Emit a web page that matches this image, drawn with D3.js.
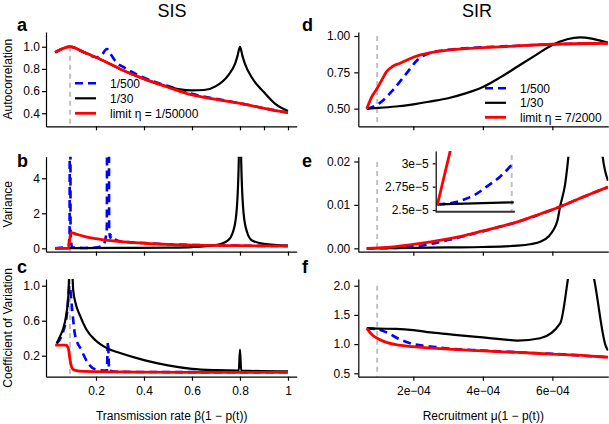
<!DOCTYPE html>
<html>
<head>
<meta charset="utf-8">
<script src="https://cdn.jsdelivr.net/npm/d3@7"></script>
<style>
    body { margin: 0; background: #fff; }
    text { font-family: "Liberation Sans", Arial, sans-serif; }
</style>
</head>
<body>
<svg id="displaySvg" width="609" height="424"></svg>
<script>

// ---- data ----
const sisCritical = 0.092
const sirCritical = 0.96e-4

const sisTicks = [0.2, 0.4, 0.6, 0.8, 1]
const sisTicksTop = [0.2, 0.4, 0.6, 0.8, 0.9, 1]
const sirTicks = [2e-4, 4e-4, 6e-4]

const acfTicksSis = [0.4, 0.6, 0.8, 1.0]
const varTicksSis = [0, 2, 4]
const cvTicksSis = [0.2, 0.6, 1.0]
const acfTicksSir = [0.5, 0.75, 1.0]
const varTicksSir = [0, 0.01, 0.02]
const cvTicksSir = [0.5, 1.0, 1.5, 2.0]
const insetTicks = [2.5e-5, 2.75e-5, 3e-5]

const legendSis = ['1/500', '1/30', 'limit η = 1/50000']
const legendSir = ['1/500', '1/30', 'limit η = 7/2000']

// SIS autocorrelation
const acfSisSlow = [[0.03,0.95],[0.092,1.0],[0.15,0.95],[0.2,0.905],[0.225,0.93],[0.245,0.98],[0.265,0.92],[0.285,0.86],[0.32,0.81],[0.4,0.72],[0.5,0.645],[0.6,0.575],[0.7,0.53],[0.8,0.49],[0.9,0.445],[1.0,0.405]]
const acfSisFast = [[0.03,0.95],[0.092,1.0],[0.15,0.95],[0.2,0.905],[0.3,0.80],[0.4,0.71],[0.5,0.64],[0.55,0.615],[0.6,0.607],[0.65,0.61],[0.7,0.645],[0.75,0.74],[0.78,0.85],[0.79,0.92],[0.8,1.0],[0.81,0.92],[0.82,0.85],[0.85,0.72],[0.9,0.59],[0.95,0.48],[1.0,0.42]]
const acfSisLimit = [[0.03,0.95],[0.092,1.0],[0.15,0.95],[0.2,0.905],[0.3,0.80],[0.4,0.71],[0.5,0.635],[0.6,0.565],[0.7,0.525],[0.8,0.49],[0.9,0.445],[1.0,0.405]]

// SIS variance
const varSisSlow = [[0.03,0],[0.085,0.1],[0.09,1],[0.092,60],[0.094,1],[0.1,0.05],[0.15,0.02],[0.2,0.04],[0.23,0.2],[0.245,1],[0.25,60],[0.255,1],[0.26,0.6],[0.265,0.75],[0.275,0.55],[0.3,0.4],[0.4,0.3],[0.5,0.23],[0.6,0.19],[0.8,0.15],[1,0.13]]
const varSisFast = [[0.03,0],[0.1,0.01],[0.3,0.02],[0.5,0.04],[0.6,0.07],[0.7,0.18],[0.75,0.45],[0.77,0.9],[0.785,2],[0.795,5],[0.8,40],[0.805,5],[0.815,2],[0.83,0.9],[0.85,0.45],[0.9,0.25],[1,0.15]]
const varSisLimit = [[0.03,0],[0.085,0],[0.095,0.9],[0.12,0.8],[0.15,0.68],[0.2,0.55],[0.25,0.45],[0.3,0.38],[0.4,0.29],[0.5,0.22],[0.6,0.18],[0.8,0.15],[1,0.13]]

// SIS coefficient of variation
const cvSisSlow = [[0.036,0.34],[0.06,0.45],[0.08,0.7],[0.09,1.0],[0.1,0.75],[0.1125,0.44],[0.14,0.26],[0.168,0.11],[0.2,0.04],[0.245,0.03],[0.25,0.36],[0.255,0.03],[0.3,0.015],[1,0.01]]
const cvSisFast = [[0.036,0.34],[0.05,0.42],[0.062,0.5],[0.075,0.65],[0.085,0.9],[0.09,1.2],[0.1,1.2],[0.105,0.95],[0.115,0.8],[0.133,0.66],[0.16,0.5],[0.2,0.37],[0.25,0.28],[0.3,0.23],[0.4,0.15],[0.5,0.09],[0.6,0.05],[0.7,0.035],[0.795,0.03],[0.8,0.27],[0.805,0.03],[1,0.02]]
const cvSisLimit = [[0.03,0.32],[0.075,0.32],[0.085,0.28],[0.092,0.15],[0.1,0.06],[0.11,0.035],[0.15,0.02],[0.3,0.015],[0.6,0.01],[1,0.01]]

// SIR autocorrelation
const acfSirSlow = [[0.66e-4,0.5],[1.04e-4,0.54],[1.42e-4,0.63],[1.81e-4,0.745],[2.14e-4,0.84],[2.5e-4,0.885],[3e-4,0.905],[4e-4,0.922],[5e-4,0.933],[6e-4,0.943],[7.6e-4,0.95]]
const acfSirFast = [[0.66e-4,0.5],[1e-4,0.505],[1.5e-4,0.515],[2e-4,0.53],[2.5e-4,0.55],[3e-4,0.572],[3.5e-4,0.605],[4e-4,0.649],[4.5e-4,0.715],[5e-4,0.79],[5.5e-4,0.865],[6e-4,0.938],[6.8e-4,0.99],[7.6e-4,0.954]]
const acfSirLimit = [[0.66e-4,0.5],[0.8e-4,0.58],[0.96e-4,0.64],[1.1e-4,0.7],[1.23e-4,0.755],[1.4e-4,0.79],[1.62e-4,0.813],[2e-4,0.854],[2.5e-4,0.885],[3e-4,0.903],[4e-4,0.92],[5e-4,0.932],[6e-4,0.943],[7.6e-4,0.95]]

// SIR variance
const varSirSlow = [[0.66e-4,0],[1.5e-4,0.0001],[2e-4,0.0004],[2.5e-4,0.001],[3e-4,0.0019],[3.5e-4,0.0029],[4e-4,0.0039],[4.5e-4,0.005],[5e-4,0.0061],[6e-4,0.0089],[7e-4,0.0122],[7.6e-4,0.0141]]
const varSirFast = [[0.66e-4,0],[2e-4,0.0001],[3e-4,0.0002],[4e-4,0.0003],[5e-4,0.0006],[5.4e-4,0.001],[5.65e-4,0.0015],[5.9e-4,0.0028],[6.03e-4,0.0042],[6.15e-4,0.0065],[6.22e-4,0.0095],[6.37e-4,0.0149],[6.46e-4,0.021],[6.6e-4,0.035],[7e-4,0.06],[7.3e-4,0.035],[7.45e-4,0.021],[7.6e-4,0.0156]]
const varSirLimit = [[0.66e-4,0],[1e-4,0.0001],[1.5e-4,0.0004],[2e-4,0.0009],[2.5e-4,0.0015],[3e-4,0.0022],[3.5e-4,0.003],[4e-4,0.004],[4.5e-4,0.005],[5e-4,0.0061],[5.5e-4,0.0075],[6e-4,0.0089],[6.5e-4,0.0105],[7e-4,0.0122],[7.6e-4,0.0141]]

// SIR variance, inset near the threshold
const insetSlow = [[0.66e-4,2.561e-5],[0.70e-4,2.568e-5],[0.731e-4,2.582e-5],[0.77e-4,2.615e-5],[0.805e-4,2.653e-5],[0.859e-4,2.75e-5],[0.913e-4,2.857e-5],[0.966e-4,3.0e-5]]
const insetFast = [[0.66e-4,2.561e-5],[0.968e-4,2.582e-5]]
const insetLimit = [[0.66e-4,2.5535e-5],[0.72e-4,3.22e-5]]

// SIR coefficient of variation
const cvSirSlow = [[0.66e-4,1.27],[1.0e-4,1.25],[1.23e-4,1.2],[1.62e-4,1.08],[2e-4,1.0],[2.5e-4,0.96],[3e-4,0.925],[4e-4,0.89],[5e-4,0.86],[6e-4,0.833],[7.6e-4,0.775]]
const cvSirFast = [[0.66e-4,1.27],[1e-4,1.265],[1.5e-4,1.26],[2e-4,1.24],[2.5e-4,1.2],[3e-4,1.17],[3.5e-4,1.14],[4e-4,1.115],[4.5e-4,1.085],[5e-4,1.06],[5.65e-4,1.1],[6.23e-4,1.36],[6.5e-4,2.3],[6.8e-4,3],[7.2e-4,2.12],[7.53e-4,0.98],[7.6e-4,0.89]]
const cvSirLimit = [[0.66e-4,1.27],[0.8e-4,1.17],[0.96e-4,1.1],[1.1e-4,1.06],[1.23e-4,1.03],[1.5e-4,0.99],[2e-4,0.955],[3e-4,0.915],[4e-4,0.885],[5e-4,0.857],[6e-4,0.83],[7e-4,0.8],[7.6e-4,0.775]]


window.onload = function(){
    figure.render(d3.select('#displaySvg'))
}

const styles = {
    slow:  {stroke: '#0000ff', width: 2.6, dash: '8,5'},
    fast:  {stroke: '#000000', width: 2.2, dash: null},
    limit: {stroke: '#ff0000', width: 2.8, dash: null},
    gray:  {stroke: '#c0c0c0', width: 2, dash: '5,4'}
}

function fmtFixed(n){
    return d => d3.format('.' + n + 'f')(d)
}

function fmtSci(d){
    const parts = d.toExponential(0).split('e')
    const e = +parts[1]
    return parts[0] + 'e' + (e < 0 ? '\u2212' : '+') + String(Math.abs(e)).padStart(2, '0')
}

function fmtInset(d){
    return d3.format('~g')(d / 1e-5) + 'e\u22125'
}

class figure {

    static columns = [
        {x0: 46, x1: 296.7, domain: [-0.0083, 1.0363], crit: sisCritical, legend: legendSis,
         title: 'SIS', titleX: 172, xTitle: 'Transmission rate \u03b2(1 \u2212 p(t))', xTitleX: 171.7,
         labelX: 17, tickPad: 2},
        {x0: 358.3, x1: 608.3, domain: [0.417e-4, 7.61e-4], crit: sirCritical, legend: legendSir,
         title: 'SIR', titleX: 477, xTitle: 'Recruitment \u03bc(1 \u2212 p(t))', xTitleX: 483.3,
         labelX: 302, tickPad: 4}
    ]

    static rows = [
        {top: 32, bottom: 126.3, labelY: 30.7},
        {top: 156.7, bottom: 251.7, labelY: 166.7},
        {top: 279, bottom: 376.7, labelY: 273}
    ]

    static panels = [
        {label: 'a', col: 0, row: 0, yDomain: [0.2824, 1.133], yTicks: acfTicksSis, yFmt: fmtFixed(1),
         xTicks: sisTicksTop, grayTop: 1.0, series: [acfSisSlow, acfSisFast, acfSisLimit],
         yTitle: 'Autocorrelation', legend: {x: 75, y: 83.3}},
        {label: 'b', col: 0, row: 1, yDomain: [-0.194, 5.234], yTicks: varTicksSis, yFmt: fmtFixed(0),
         xTicks: sisTicks, grayTop: 5.234, series: [varSisSlow, varSisFast, varSisLimit],
         yTitle: 'Variance'},
        {label: 'c', col: 0, row: 2, yDomain: [-0.04, 1.0766], yTicks: cvTicksSis, yFmt: fmtFixed(1),
         xTicks: sisTicks, xFmt: d => d === 1 ? '1' : d3.format('.1f')(d), grayTop: 1.0766,
         series: [cvSisSlow, cvSisFast, cvSisLimit], yTitle: 'Coefficient of Variation'},
        {label: 'd', col: 1, row: 0, yDomain: [0.3788, 1.0274], yTicks: acfTicksSir, yFmt: fmtFixed(2),
         xTicks: sirTicks, grayTop: 1.0, series: [acfSirSlow, acfSirFast, acfSirLimit],
         legend: {x: 485, y: 88.3}},
        {label: 'e', col: 1, row: 1, yDomain: [-0.00078, 0.0211], yTicks: varTicksSir, yFmt: fmtFixed(2),
         xTicks: sirTicks, grayTop: 0.0199, series: [varSirSlow, varSirFast, varSirLimit], inset: true},
        {label: 'f', col: 1, row: 2, yDomain: [0.4418, 2.1147], yTicks: cvTicksSir, yFmt: fmtFixed(1),
         xTicks: sirTicks, xFmt: fmtSci, grayTop: 2.0, series: [cvSirSlow, cvSirFast, cvSirLimit]}
    ]

    static render(svg){
        this.columns.forEach(c => {
            svg.append('text')
                .attr('x', c.titleX).attr('y', 17)
                .attr('text-anchor', 'middle')
                .style('font-size', '18px')
                .text(c.title)
            svg.append('text')
                .attr('x', c.xTitleX).attr('y', 420)
                .attr('text-anchor', 'middle')
                .style('font-size', '12px')
                .text(c.xTitle)
        })

        this.panels.forEach((p, i) => new panel(p, this.columns[p.col], this.rows[p.row], i).render(svg))

        new inset().render(svg)
    }
}

class panel {

    constructor(cfg, column, row, index){
        this.cfg = cfg
        this.column = column
        this.row = row
        this.index = index
        this.x = d3.scaleLinear().domain(column.domain).range([column.x0, column.x1])
        this.y = d3.scaleLinear().domain(cfg.yDomain).range([row.bottom, row.top])
    }

    render(svg){
        const g = svg.append('g').attr('class', 'panel')
        const clipId = 'clip' + this.index
        const x = this.x, y = this.y

        g.append('clipPath').attr('id', clipId)
            .append('rect')
            .attr('x', this.column.x0).attr('y', this.row.top)
            .attr('width', this.column.x1 - this.column.x0)
            .attr('height', this.row.bottom - this.row.top)

        const plot = g.append('g').attr('clip-path', 'url(#' + clipId + ')')

        plot.append('line')
            .attr('x1', x(this.column.crit)).attr('x2', x(this.column.crit))
            .attr('y1', y(this.cfg.grayTop)).attr('y2', this.row.bottom)
            .call(lineStyle, styles.gray)

        const line = d3.line().x(d => x(d[0])).y(d => y(d[1])).curve(d3.curveMonotoneX)
        const keys = ['slow', 'fast', 'limit']
        this.cfg.series.forEach((s, k) => {
            plot.append('path')
                .attr('d', line(s))
                .attr('fill', 'none')
                .call(lineStyle, styles[keys[k]])
        })

        this.drawAxes(g)

        g.append('text')
            .attr('x', this.column.labelX).attr('y', this.row.labelY)
            .style('font-size', '18px').style('font-weight', 'bold')
            .text(this.cfg.label)

        if(this.cfg.yTitle){
            g.append('text')
                .attr('transform', d3Helper.getTranslateString(11.5, (this.row.top + this.row.bottom) / 2) + ' rotate(-90)')
                .attr('text-anchor', 'middle')
                .style('font-size', '12px')
                .text(this.cfg.yTitle)
        }

        if(this.cfg.legend) this.drawLegend(g)
    }

    drawAxes(g){
        const xAxis = d3.axisBottom(this.x)
            .tickValues(this.cfg.xTicks)
            .tickSize(4).tickSizeOuter(0).tickPadding(6)
            .tickFormat(this.cfg.xFmt ? this.cfg.xFmt : '')
        const yAxis = d3.axisLeft(this.y)
            .tickValues(this.cfg.yTicks)
            .tickSize(4).tickSizeOuter(0).tickPadding(this.column.tickPad)
            .tickFormat(this.cfg.yFmt)

        const ax = g.append('g')
            .attr('transform', d3Helper.getTranslateString(0, this.row.bottom))
            .call(xAxis)
        const ay = g.append('g')
            .attr('transform', d3Helper.getTranslateString(this.column.x0, 0))
            .call(yAxis)

        ;[ax, ay].forEach(a => {
            a.selectAll('path, line').attr('stroke', '#000').attr('stroke-width', 1.2)
            a.selectAll('text').style('font-size', '12px').attr('fill', '#000')
                .style('font-family', '"Liberation Sans", Arial, sans-serif')
        })
    }

    drawLegend(g){
        const lg = g.append('g')
            .attr('transform', d3Helper.getTranslateString(this.cfg.legend.x, this.cfg.legend.y))
        const keys = ['slow', 'fast', 'limit']
        const step = this.cfg.col === 0 ? 15 : 14.5
        this.column.legend.forEach((label, i) => {
            lg.append('line')
                .attr('x1', 0).attr('x2', 21)
                .attr('y1', i * step).attr('y2', i * step)
                .call(lineStyle, styles[keys[i]])
            lg.append('text')
                .attr('x', 35).attr('y', i * step)
                .attr('dy', '0.36em')
                .style('font-size', '12px')
                .text(label)
        })
    }
}

class inset {

    render(svg){
        const x = d3.scaleLinear().domain([0.6535e-4, 0.9733e-4]).range([435.7, 515])
        const y = d3.scaleLinear().domain([2.4818e-5, 3.1317e-5]).range([211.7, 151])
        const g = svg.append('g').attr('class', 'inset')

        g.append('clipPath').attr('id', 'clipInset')
            .append('rect').attr('x', 435.7).attr('y', 151).attr('width', 79.3).attr('height', 60.7)

        const plot = g.append('g').attr('clip-path', 'url(#clipInset)')
        plot.append('line')
            .attr('x1', x(sirCritical)).attr('x2', x(sirCritical))
            .attr('y1', y(3.089e-5)).attr('y2', 211.7)
            .call(lineStyle, styles.gray)

        const line = d3.line().x(d => x(d[0])).y(d => y(d[1])).curve(d3.curveMonotoneX)
        const data = {slow: insetSlow, fast: insetFast, limit: insetLimit}
        Object.keys(data).forEach(k => {
            plot.append('path').attr('d', line(data[k])).attr('fill', 'none').call(lineStyle, styles[k])
        })

        const ay = g.append('g')
            .attr('transform', d3Helper.getTranslateString(435.7, 0))
            .call(d3.axisLeft(y).tickValues(insetTicks).tickSize(3).tickSizeOuter(0).tickPadding(4).tickFormat(fmtInset))
        ay.selectAll('path, line').attr('stroke', '#000').attr('stroke-width', 1.2)
        ay.selectAll('text').style('font-size', '12px').attr('fill', '#000')
            .style('font-family', '"Liberation Sans", Arial, sans-serif')

        g.append('line')
            .attr('x1', 435.7).attr('x2', 515)
            .attr('y1', 211.7).attr('y2', 211.7)
            .attr('stroke', '#333').attr('stroke-width', 2)
    }
}

function lineStyle(sel, s){
    sel.attr('stroke', s.stroke)
        .attr('stroke-width', s.width)
        .attr('stroke-dasharray', s.dash)
}

class d3Helper {
    static getTranslateString(x, y){
        return "translate(" + x + "," + y + ")"
    }
}
</script>
</body>
</html>
